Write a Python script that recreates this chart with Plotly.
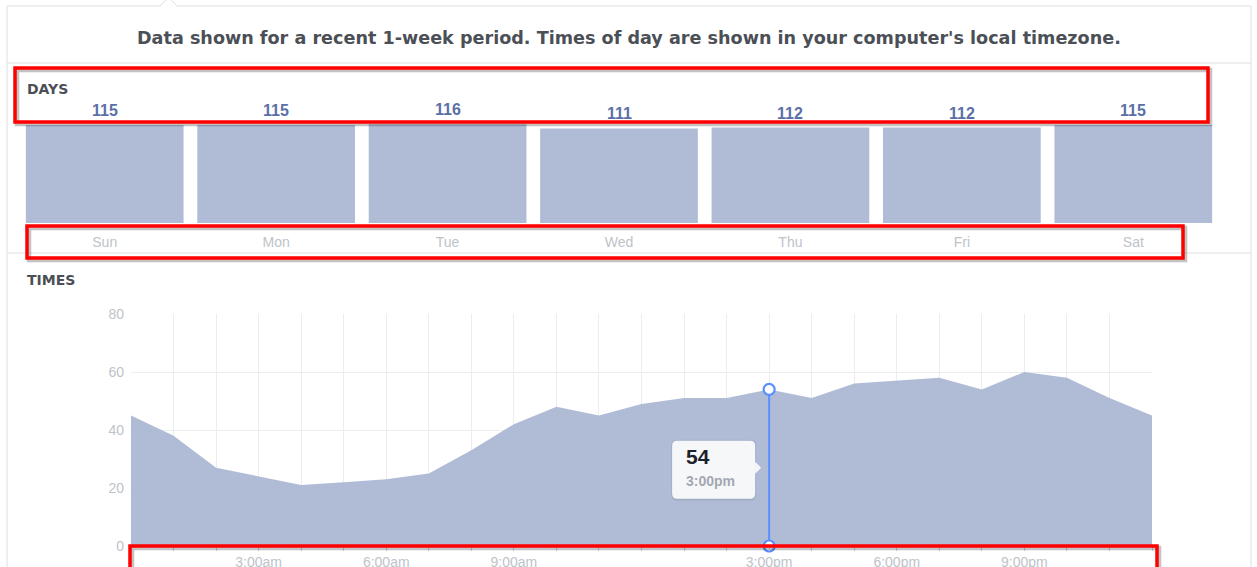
import plotly.graph_objects as go

# ---------------- data ----------------
DAYS = ["Sun", "Mon", "Tue", "Wed", "Thu", "Fri", "Sat"]
DAY_VALUES = [115, 115, 116, 111, 112, 112, 115]

HOURS = [0, 1, 2, 3, 4, 5, 6, 7, 8, 9, 10, 11, 12,
         13, 14, 15, 16, 17, 18, 19, 20, 21, 22, 23, 24]
TIMES = [45, 38, 27, 24, 21, 22, 23, 25, 33, 42, 48, 45, 49,
         51, 51, 54, 51, 56, 57, 58, 54, 60, 58, 51, 45]

TIME_TICK_VALS = [3, 6, 9, 15, 18, 21]
TIME_TICK_TEXT = ["3:00am", "6:00am", "9:00am", "3:00pm", "6:00pm", "9:00pm"]

HOVER_INDEX = 15
HOVER_LABEL = "3:00pm"

TITLE = "Data shown for a recent 1-week period. Times of day are shown in your computer's local timezone."

# ---------------- helpers ----------------
W, H = 1257, 567
def px(x):
    return x / W
def py(y):
    return 1 - y / H

FONT = "Liberation Sans, Arial, Helvetica, sans-serif"
WIDE = "DejaVu Sans, Liberation Sans, Arial, sans-serif"
BAR_COLOR = "#b0bcd6"
AREA_COLOR = "rgba(167,181,209,0.9)"
GRID = "#ebedf0"
TICK_GRAY = "#bec3c9"
DARK = "#4b4f56"
BLUE = "#5890ff"
RED = "#ff0000"

fig = go.Figure()

# bars
fig.add_trace(go.Bar(
    x=DAYS, y=DAY_VALUES, marker=dict(color=BAR_COLOR, line=dict(width=0)),
    xaxis="x", yaxis="y", hoverinfo="skip", showlegend=False,
))

# area
fig.add_trace(go.Scatter(
    x=HOURS, y=TIMES, mode="lines", fill="tozeroy", fillcolor=AREA_COLOR,
    line=dict(width=0, color=AREA_COLOR), xaxis="x2", yaxis="y2",
    hoverinfo="skip", showlegend=False,
))

# hover indicator line
hx = HOURS[HOVER_INDEX]
hv = TIMES[HOVER_INDEX]
fig.add_trace(go.Scatter(
    x=[hx, hx], y=[0, hv], mode="lines+markers",
    line=dict(color=BLUE, width=2),
    marker=dict(size=11, color="white", line=dict(color=BLUE, width=2.2)),
    xaxis="x2", yaxis="y2", cliponaxis=False, hoverinfo="skip", showlegend=False,
))

annotations = []
# bar value labels
for d, v in zip(DAYS, DAY_VALUES):
    annotations.append(dict(
        x=d, y=v, xref="x", yref="y", text=f"<b>{v}</b>", showarrow=False,
        yanchor="bottom", yshift=4, font=dict(family=FONT, size=16, color="#5b6fa6"),
    ))

# text labels
annotations += [
    dict(x=px(629), y=py(38), xref="paper", yref="paper", text=f"<b>{TITLE}</b>",
         showarrow=False, xanchor="center", yanchor="middle",
         font=dict(family=WIDE, size=17.6, color=DARK)),
    dict(x=px(25), y=py(89), xref="paper", yref="paper", text="<b>DAYS</b>",
         showarrow=False, xanchor="left", yanchor="middle",
         font=dict(family=WIDE, size=14, color=DARK)),
    dict(x=px(25), y=py(280), xref="paper", yref="paper", text="<b>TIMES</b>",
         showarrow=False, xanchor="left", yanchor="middle",
         font=dict(family=WIDE, size=14, color=DARK)),
    # tooltip texts
    dict(x=hx, y=hv / 2, xref="x2", yref="y2", text=f"<b>{hv}</b>",
         showarrow=False, xanchor="left", yanchor="middle", xshift=-85, yshift=11,
         font=dict(family=FONT, size=21, color="#1d2129")),
    dict(x=hx, y=hv / 2, xref="x2", yref="y2", text=f"<b>{HOVER_LABEL}</b>",
         showarrow=False, xanchor="left", yanchor="middle", xshift=-85, yshift=-13,
         font=dict(family=FONT, size=14, color="#a3a8b0")),
]

shapes = []
LINE = "#dddfe2"
# card frame
def seg(x0, y0, x1, y1, color=LINE, width=1):
    shapes.append(dict(type="line", xref="paper", yref="paper",
                       x0=px(x0), y0=py(y0), x1=px(x1), y1=py(y1),
                       line=dict(color=color, width=width), layer="below"))
seg(7, 6, 160, 6)
seg(160, 6, 166, 0)
seg(171, 0, 177, 6)
seg(177, 6, 1251, 6)
seg(7, 6, 7, 567)
seg(1251, 6, 1251, 567)
seg(7, 63, 1251, 63)
seg(7, 253, 1251, 253)

# tooltip box (rounded) anchored on the hover point
def rrect(x0, y0, x1, y1, r):
    return (f"M {x0+r},{y1} L {x1-r},{y1} Q {x1},{y1} {x1},{y1-r} "
            f"L {x1},{y0+r} Q {x1},{y0} {x1-r},{y0} L {x0+r},{y0} "
            f"Q {x0},{y0} {x0},{y0+r} L {x0},{y1-r} Q {x0},{y1} {x0+r},{y1} Z")

tip_common = dict(xref="x2", yref="y2", xsizemode="pixel", ysizemode="pixel",
                  xanchor=hx, yanchor=hv / 2)
shapes.append(dict(type="path", path=rrect(-98, -33, -13, 28, 6),
                   fillcolor="rgba(0,0,0,0.07)", line=dict(width=0), layer="above", **tip_common))
shapes.append(dict(type="path", path=rrect(-97, -31, -14, 27, 5),
                   fillcolor="#f6f7f9", line=dict(width=0), layer="above", **tip_common))
shapes.append(dict(type="path", path="M -14,6 L -8,0 L -14,-6 Z",
                   fillcolor="#f6f7f9", line=dict(width=0), layer="above", **tip_common))

# red annotation boxes with shadow
def redbox(x0, y0, x1, y1):
    shapes.append(dict(type="rect", xref="paper", yref="paper",
                       x0=px(x0 + 2), y0=py(y0 + 2), x1=px(x1 + 2), y1=py(y1 + 2),
                       line=dict(color="rgba(40,40,40,0.28)", width=4.5), layer="above"))
    shapes.append(dict(type="rect", xref="paper", yref="paper",
                       x0=px(x0), y0=py(y0), x1=px(x1), y1=py(y1),
                       line=dict(color=RED, width=3.5), layer="above"))
redbox(15, 68, 1208, 122)
redbox(27, 226, 1183, 258)
redbox(130, 546, 1157, 600)

R = 125
k = 98 / 115
fig.update_layout(
    width=W, height=H, autosize=False,
    margin=dict(l=0, r=0, t=0, b=0, pad=0, autoexpand=False),
    paper_bgcolor="white", plot_bgcolor="white",
    showlegend=False, bargap=0.08,
    font=dict(family=FONT),
    xaxis=dict(domain=[px(19), px(1219)], type="category", anchor="y",
               showgrid=False, zeroline=False, showline=False, ticks="",
               automargin=False,
               tickfont=dict(family=FONT, size=14, color=TICK_GRAY),
               ticklabelstandoff=9),
    yaxis=dict(domain=[py(223), py(223 - R * k)], range=[0, R], visible=False,
               anchor="x", automargin=False),
    xaxis2=dict(domain=[px(131), px(1152)], range=[0, 24], anchor="y2",
                automargin=False,
                tickvals=TIME_TICK_VALS, ticktext=TIME_TICK_TEXT,
                showgrid=True, gridcolor=GRID, zeroline=False, showline=False,
                ticks="outside", ticklen=4, tickcolor="#ccd0d5",
                ticklabelstandoff=-1,
                minor=dict(dtick=1, tick0=0, showgrid=True, gridcolor=GRID,
                           ticks="outside", ticklen=4, tickcolor="#ccd0d5"),
                tickfont=dict(family=FONT, size=14, color=TICK_GRAY)),
    yaxis2=dict(domain=[py(546), py(314)], range=[0, 80], anchor="x2",
                automargin=False, ticklabelstandoff=6,
                tickvals=[0, 20, 40, 60, 80], showgrid=True, gridcolor=GRID,
                zeroline=False, showline=False,
                tickfont=dict(family=FONT, size=14, color=TICK_GRAY)),
    annotations=annotations,
    shapes=shapes,
)

PIN = (
    "var s=document.documentElement.style;s.margin='0';s.padding='0';"
    "s.overflow='hidden';s.height='567px';"
    "var b=document.body.style;b.margin='0';b.padding='0';b.overflow='hidden';"
    "b.height='567px';"
    "var g=document.getElementById('{plot_id}');"
    "g.style.position='fixed';g.style.left='0px';g.style.top='0px';"
)

fig.write_html("out.html", config={"displayModeBar": False}, post_script=PIN)
